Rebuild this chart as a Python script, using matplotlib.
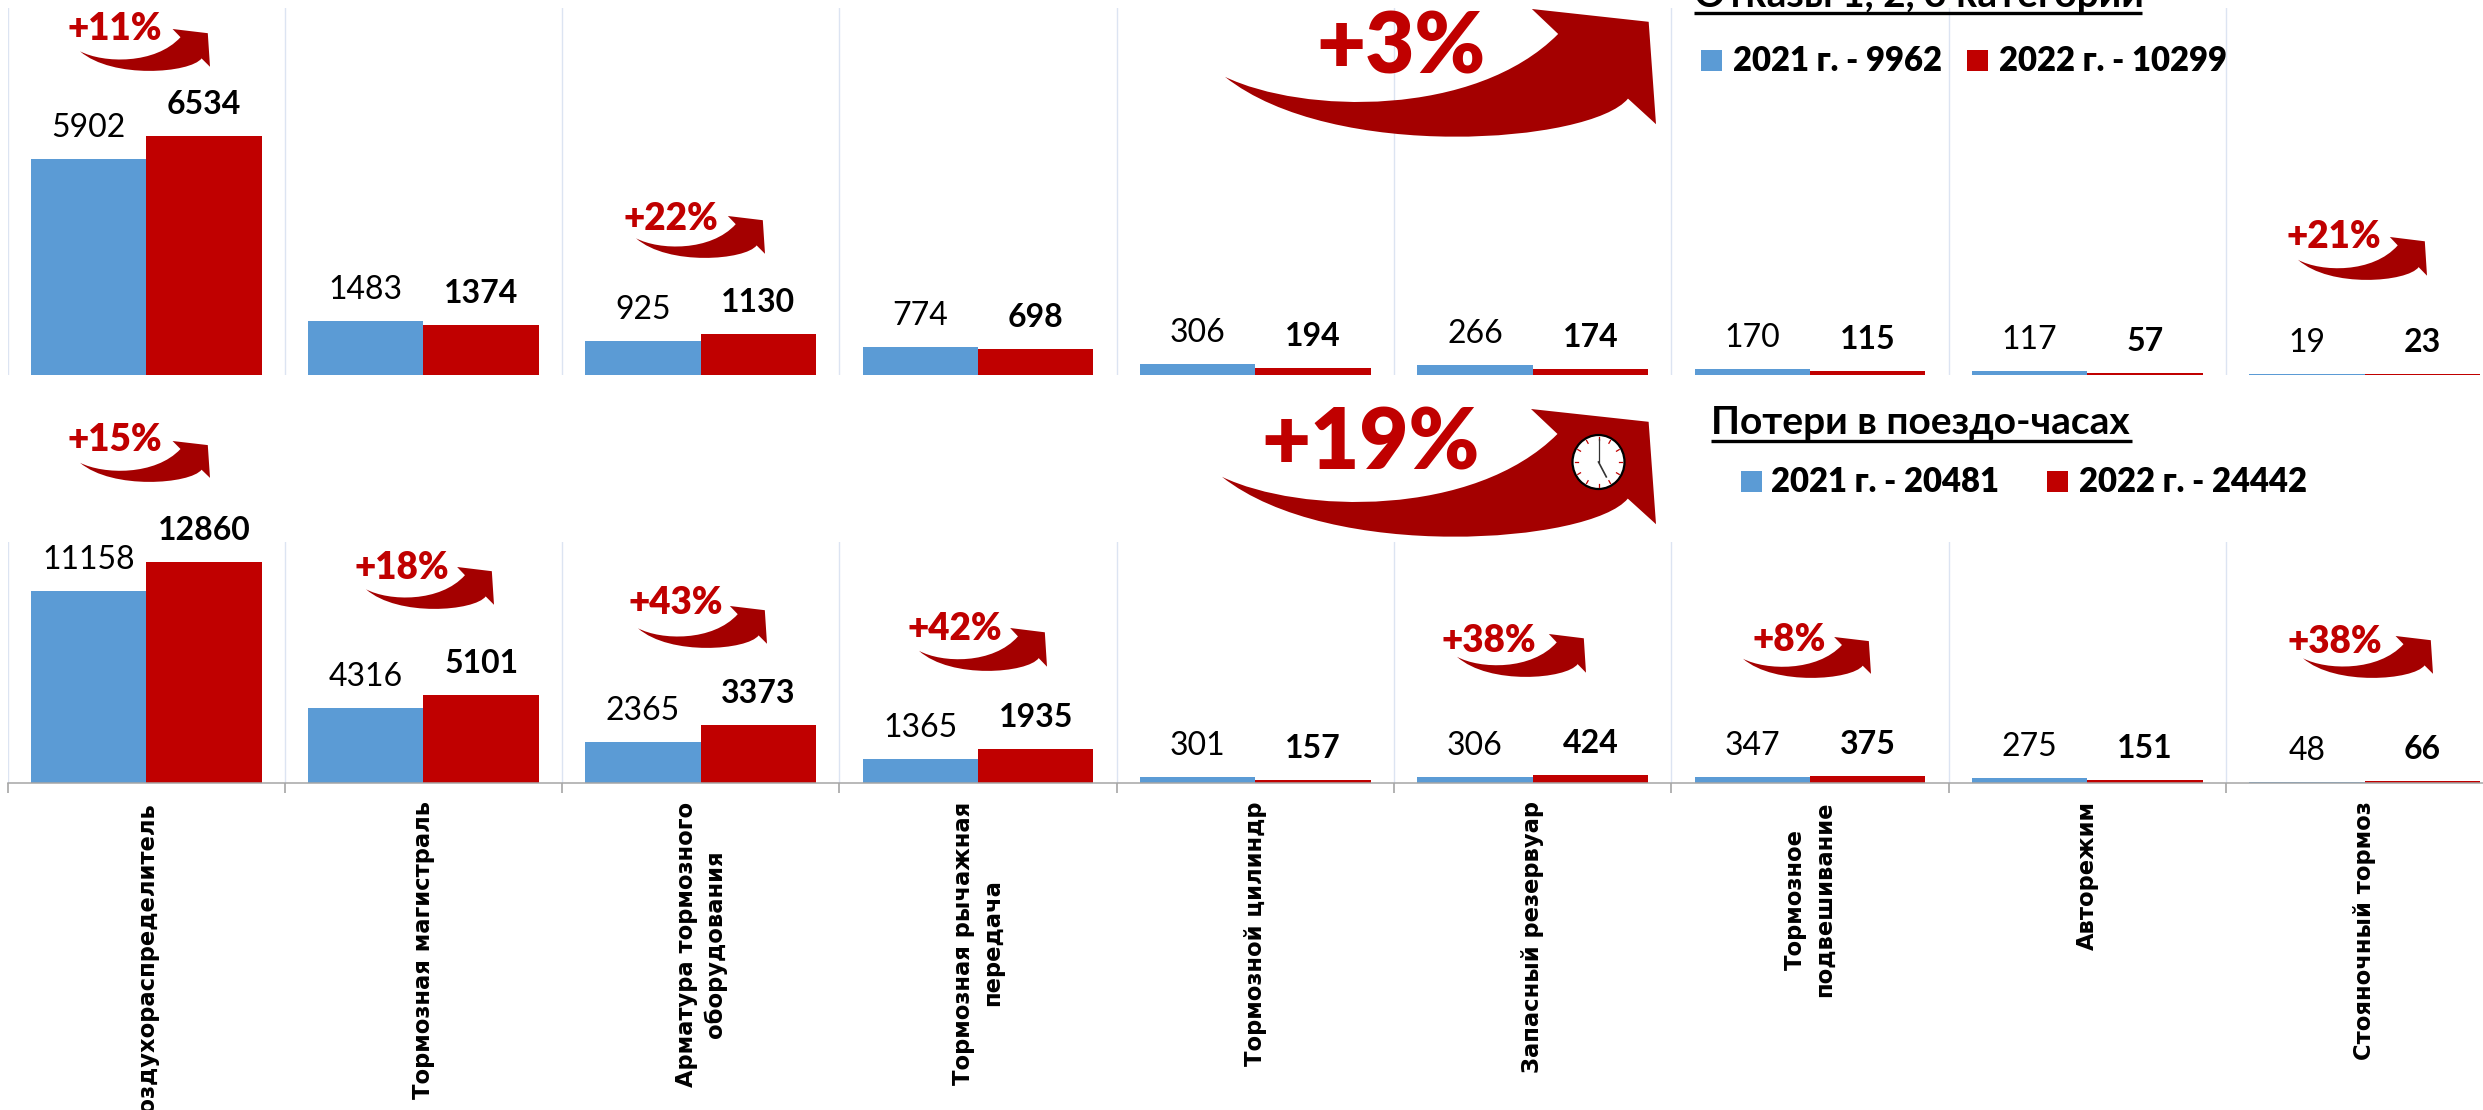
import numpy as np
import matplotlib
matplotlib.use("Agg")
import matplotlib.pyplot as plt
from matplotlib.path import Path
from matplotlib.patches import PathPatch, Rectangle, Ellipse

categories = ["Воздухораспределитель", "Тормозная магистраль", "Арматура тормозного\nоборудования",
              "Тормозная рычажная\nпередача", "Тормозной цилиндр", "Запасный резервуар",
              "Тормозное\nподвешивание", "Авторежим", "Стояночный тормоз"]
failures_2021 = [5902, 1483, 925, 774, 306, 266, 170, 117, 19]
failures_2022 = [6534, 1374, 1130, 698, 194, 174, 115, 57, 23]
hours_2021 = [11158, 4316, 2365, 1365, 301, 306, 347, 275, 48]
hours_2022 = [12860, 5101, 3373, 1935, 157, 424, 375, 151, 66]
title_top = "Отказы 1, 2, 3 категории"
title_bottom = "Потери в поездо-часах"
legend_top = ["2021 г. - 9962", "2022 г. - 10299"]
legend_bottom = ["2021 г. - 20481", "2022 г. - 24442"]

BLUE, RED, DARK, GRID, AXIS = "#5B9BD5", "#C00000", "#A40000", "#DCE4F2", "#A6A6A6"
W, H = 2483, 1110
FONT = ["Lato", "Open Sans", "DejaVu Sans"]
plt.rcParams["font.family"] = FONT

fig = plt.figure(figsize=(W / 100, H / 100), dpi=100, facecolor="white")
X0, GW = 7.5, 277.3


def make_axes(top, base, ymax):
    ax = fig.add_axes([X0 / W, 1 - base / H, 9 * GW / W, (base - top) / H])
    ax.set_xlim(-0.5, 8.5)
    ax.set_ylim(0, ymax)
    ax.patch.set_alpha(0)
    for s in ax.spines.values():
        s.set_visible(False)
    ax.set_yticks([])
    ax.set_xticks(np.arange(10) - 0.5)
    ax.set_xticklabels([])
    ax.grid(axis="x", color=GRID, lw=1.0)
    ax.set_axisbelow(True)
    return ax


def draw(ax, a, b):
    x = np.arange(9)
    w = 0.416
    ax.bar(x - w / 2, a, w, color=BLUE)
    ax.bar(x + w / 2, b, w, color=RED)
    for i in x:
        ax.annotate(str(a[i]), (i - w / 2, a[i]), xytext=(0, 22), textcoords="offset pixels",
                    ha="center", va="baseline", fontsize=23, color="black")
        ax.annotate(str(b[i]), (i + w / 2, b[i]), xytext=(0, 22), textcoords="offset pixels",
                    ha="center", va="baseline", fontsize=23, color="black", fontweight="bold")


ax1 = make_axes(8, 375, 10030)
ax1.tick_params(axis="x", length=0)
draw(ax1, failures_2021, failures_2022)

ax2 = make_axes(542, 782.5, 14010)
ax2.spines["bottom"].set_visible(True)
ax2.spines["bottom"].set_color(AXIS)
ax2.spines["bottom"].set_linewidth(1.1)
ax2.spines["bottom"].set_position(("outward", 0.6))
ax2.tick_params(axis="x", which="major", length=7, color=AXIS, width=1.2)
draw(ax2, hours_2021, hours_2022)
ax2.set_xticks(np.arange(9), minor=True)
ax2.set_xticklabels(categories, minor=True, rotation=90, va="top", ha="center",
                    multialignment="center", family="DejaVu Sans", fontweight="bold",
                    fontsize=16.3, linespacing=1.3)
ax2.tick_params(axis="x", which="minor", length=0, pad=13)

# overlay in picture pixels for decorations
ov = fig.add_axes([0, 0, 1, 1], zorder=5)
ov.set_xlim(0, W)
ov.set_ylim(H, 0)
ov.axis("off")
ov.patch.set_alpha(0)


def arrow(x0, x1, y0, y1):
    pts = [(0, .53), (.18, .82), (.58, .85), (.773, .195), (.712, 0), (.983, .10), (1, .90), (.935, .70),
           (.85, 1.05), (.25, 1.2), (0, .53), (0, .53)]
    codes = [Path.MOVETO, Path.CURVE4, Path.CURVE4, Path.CURVE4, Path.LINETO, Path.LINETO, Path.LINETO,
             Path.LINETO, Path.CURVE4, Path.CURVE4, Path.CURVE4, Path.CLOSEPOLY]
    v = np.array(pts) * [x1 - x0, y1 - y0] + [x0, y0]
    ov.add_patch(PathPatch(Path(v, codes), fc=DARK, ec="none"))


for b in [(80, 210, 29, 71), (636, 765, 216, 258), (2298, 2427, 237, 280), (80, 210, 441, 482),
          (366, 494, 567, 609), (638, 767, 606, 648), (919, 1047, 628, 671), (1457, 1586, 634, 677),
          (1743, 1871, 637, 678), (2303, 2433, 636, 678), (1225, 1656, 9, 137), (1222, 1656, 409, 537)]:
    arrow(*b)

for label, cx, base in [("+11%", 115, 40), ("+22%", 671, 230), ("+21%", 2334, 248), ("+15%", 115, 451),
                        ("+18%", 402, 579), ("+43%", 676, 614), ("+42%", 955, 640), ("+38%", 1489, 652),
                        ("+8%", 1789, 651), ("+38%", 2335, 653)]:
    ov.text(cx, base, label, color=RED, fontsize=26.5, fontweight="heavy", ha="center", va="baseline")
ov.text(1401, 73, "+3%", color=RED, fontsize=61, fontweight="heavy", ha="center", va="baseline")
ov.text(1371, 470, "+19%", color=RED, fontsize=61, fontweight="heavy", ha="center", va="baseline")

# titles
ov.text(1694, 7, title_top, fontsize=28, fontweight="bold", ha="left", va="baseline", color="black")
ov.plot([1694, 2142], [12.5, 12.5], color="black", lw=2.4, solid_capstyle="butt")
ov.text(1711, 434, title_bottom, fontsize=28, fontweight="bold", ha="left", va="baseline", color="black")
ov.plot([1711, 2132], [441, 441], color="black", lw=2.4, solid_capstyle="butt")

# legends
for sx, tx, c, s in [(1701, 1733, BLUE, legend_top[0]), (1967, 1999, RED, legend_top[1])]:
    ov.add_patch(Rectangle((sx, 50), 21, 21, fc=c, ec="none"))
    ov.text(tx, 71, s, fontsize=23.6, fontweight="heavy", ha="left", va="baseline", color="black")
for sx, tx, c, s in [(1741, 1771, BLUE, legend_bottom[0]), (2047, 2079, RED, legend_bottom[1])]:
    ov.add_patch(Rectangle((sx, 471), 21, 21, fc=c, ec="none"))
    ov.text(tx, 492, s, fontsize=23.6, fontweight="heavy", ha="left", va="baseline", color="black")

# clock
cx, cy, rx, ry = 1598.5, 462, 26, 27
ov.add_patch(Ellipse((cx, cy), 2 * rx, 2 * ry, fc="white", ec="black", lw=1.6))
for k in range(12):
    t = k * np.pi / 6
    ov.plot([cx + .8 * rx * np.sin(t), cx + .92 * rx * np.sin(t)],
            [cy - .8 * ry * np.cos(t), cy - .92 * ry * np.cos(t)], color=RED, lw=0.9)
ov.plot([cx, cx], [cy, cy - .85 * ry], color="#333333", lw=0.9)
ov.plot([cx, cx + .3 * rx], [cy, cy + .55 * ry], color="#333333", lw=1.2)

fig.savefig("out.png", dpi=100, facecolor="white")
